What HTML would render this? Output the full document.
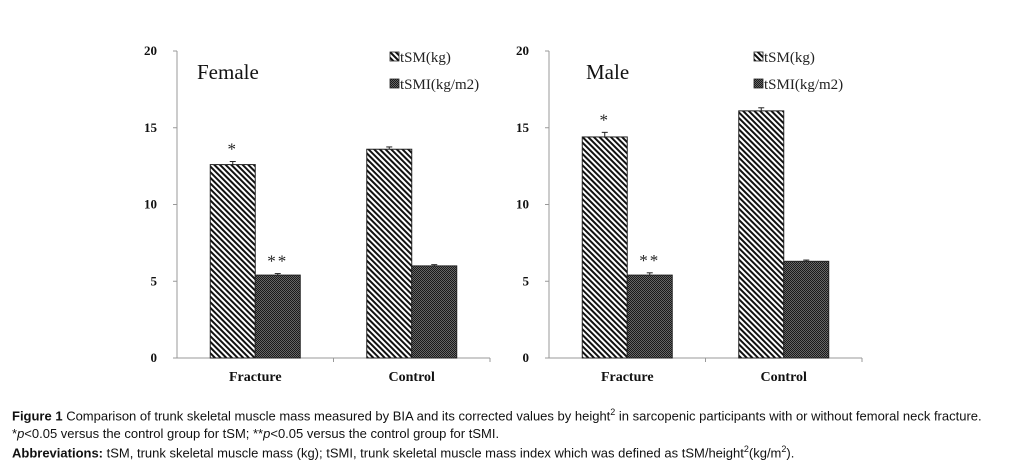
<!DOCTYPE html>
<html><head><meta charset="utf-8"><style>
html,body{margin:0;padding:0;background:#fff;width:1018px;height:473px;overflow:hidden}
.cap{position:absolute;left:12px;font-family:"Liberation Sans",sans-serif;font-size:13px;color:#111;white-space:nowrap}
</style></head><body>
<svg id="chart" width="1018" height="400" style="position:absolute;left:0;top:0" xmlns="http://www.w3.org/2000/svg">
<defs>
<pattern id="hatch" width="4" height="4" patternUnits="userSpaceOnUse" patternTransform="rotate(45)">
<rect width="4" height="4" fill="#fff"/><rect width="4" height="2" fill="#111"/>
</pattern>
<pattern id="checker" width="2" height="2" patternUnits="userSpaceOnUse">
<rect width="2" height="2" fill="#666"/><rect width="1" height="1" fill="#1a1a1a"/><rect x="1" y="1" width="1" height="1" fill="#1a1a1a"/>
</pattern>
</defs>
</svg>
<div class="cap" style="top:407px"><b>Figure 1</b> Comparison of trunk skeletal muscle mass measured by BIA and its corrected values by height<sup style="font-size:9px">2</sup> in sarcopenic participants with or without femoral neck fracture.</div>
<div class="cap" style="top:426px">*<i>p</i>&lt;0.05 versus the control group for tSM; **<i>p</i>&lt;0.05 versus the control group for tSMI.</div>
<div class="cap" style="top:444px"><b>Abbreviations:</b> tSM, trunk skeletal muscle mass (kg); tSMI, trunk skeletal muscle mass index which was defined as tSM/height<sup style="font-size:9px">2</sup>(kg/m<sup style="font-size:9px">2</sup>).</div>
<script>
const categories = ["Fracture", "Control"];
const panels = ["Female", "Male"];
const femaleTSM = [12.6, 13.6];
const femaleTSMI = [5.4, 6.0];
const maleTSM = [14.4, 16.1];
const maleTSMI = [5.4, 6.3];
const femaleErrTSM = [0.2, 0.15];
const femaleErrTSMI = [0.1, 0.08];
const maleErrTSM = [0.3, 0.2];
const maleErrTSMI = [0.15, 0.08];
const tickLabels = [0, 5, 10, 15, 20];
const sigTSM = ["*", ""];
const sigTSMI = ["**", ""];

const svg = document.getElementById('chart');
const NS = 'http://www.w3.org/2000/svg';
function mk(tag, attrs, parent) {
  const e = document.createElementNS(NS, tag);
  for (const k in attrs) e.setAttribute(k, attrs[k]);
  (parent || svg).appendChild(e);
  return e;
}
const y0 = 358, yTop = 51, yMax = 20;
function yScale(v) { return y0 - (v / yMax) * (y0 - yTop); }

function drawPanel(pi, ax, tsm, tsmi, etsm, etsmi) {
  const g = mk('g', {});
  
  
  const axEnd = ax + 313;
  const yAxis = mk('line', {x1: ax, y1: yTop, x2: ax, y2: y0, stroke: '#999', 'stroke-width': 1}, g);
  
  
  const xAxis = mk('line', {x1: ax - 4, y1: y0, x2: axEnd, y2: y0, stroke: '#999', 'stroke-width': 1}, g);
  
  
  const bandW = (axEnd - ax) / categories.length;
  mk('line', {x1: ax + bandW, y1: y0, x2: ax + bandW, y2: y0 + 4, stroke: '#999'}, g);
  mk('line', {x1: axEnd, y1: y0, x2: axEnd, y2: y0 + 4, stroke: '#999'}, g);
  tickLabels.forEach(t => {
    const yy = yScale(t);
    mk('line', {x1: ax - 4, y1: yy, x2: ax, y2: yy, stroke: '#999'}, g);
    const tx = mk('text', {x: ax - 20, y: yy + 4, 'text-anchor': 'end', 'font-family': 'Liberation Serif, serif', 'font-size': 13, 'font-weight': 'bold', fill: '#111'}, g);
    tx.textContent = t;
    
    
  });
  const barW = 45;
  categories.forEach((c, i) => {
    const cx = ax + bandW * (i + 0.5);
    const sets = [[tsm, etsm, 'url(#hatch)', 'tsm', sigTSM], [tsmi, etsmi, 'url(#checker)', 'tsmi', sigTSMI]];
    sets.forEach((s, j) => {
      const x = cx - barW + j * barW;
      const v = s[0][i];
      const r = mk('rect', {x: x, y: yScale(v), width: barW, height: y0 - yScale(v), fill: s[2], stroke: '#222', 'stroke-width': 1}, g);
      
      
      const ey = yScale(v + s[1][i]);
      mk('line', {x1: x + barW / 2, y1: yScale(v), x2: x + barW / 2, y2: ey, stroke: '#222'}, g);
      mk('line', {x1: x + barW / 2 - 3, y1: ey, x2: x + barW / 2 + 3, y2: ey, stroke: '#222'}, g);
      if (s[4][i]) {
        const st = mk('text', {x: x + barW / 2, y: ey - 7, 'text-anchor': 'middle', 'font-family': 'Liberation Serif, serif', 'font-size': 17, fill: '#222', 'letter-spacing': 2}, g);
        st.textContent = s[4][i];
        
        
      }
    });
    const lb = mk('text', {x: cx, y: y0 + 23, 'text-anchor': 'middle', 'font-family': 'Liberation Serif, serif', 'font-size': 14, 'font-weight': 'bold', fill: '#111'}, g);
    lb.textContent = c;
    
    
  });
  const title = mk('text', {x: ax + (pi === 0 ? 20 : 37), y: 79, 'font-family': 'Liberation Serif, serif', 'font-size': 21, fill: '#111'}, g);
  title.textContent = panels[pi];
  
  
  const lx = ax + (pi === 0 ? 213 : 205);
  [['url(#hatch)', 'tSM(kg)', 62], ['url(#checker)', 'tSMI(kg/m2)', 89]].forEach(l => {
    const le = mk('g', {}, g);
    
    
    mk('rect', {x: lx, y: l[2] - 10, width: 9, height: 9, fill: l[0], stroke: '#222', 'stroke-width': 0.8}, le);
    const t = mk('text', {x: lx + 10, y: l[2], 'font-family': 'Liberation Serif, serif', 'font-size': 15, fill: '#222'}, le);
    t.textContent = l[1];
  });
}
drawPanel(0, 177, femaleTSM, femaleTSMI, femaleErrTSM, femaleErrTSMI);
drawPanel(1, 549, maleTSM, maleTSMI, maleErrTSM, maleErrTSMI);
</script>
</body></html>
